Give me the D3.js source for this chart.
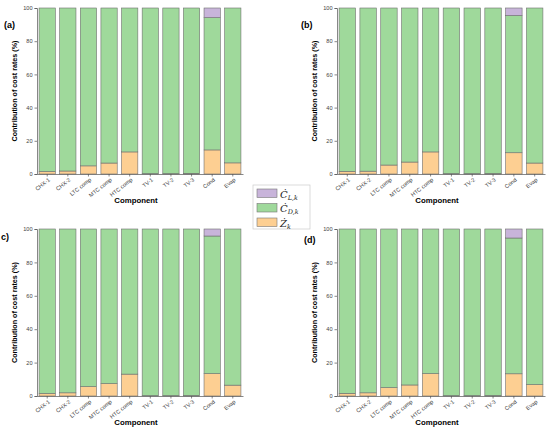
<!DOCTYPE html>
<meta charset="utf-8">
<title>Contribution of cost rates</title>
<style>
body { margin: 0; background: #fff; }
svg { font-family: "Liberation Sans", Arial, sans-serif; }
.tick text { fill: #444; font-size: 5.6px; }
.tick line, .domain { stroke: #555; stroke-width: .7px; }
</style>
<body>
<script src="https://cdn.jsdelivr.net/npm/d3@7"></script>
<script>

var components = ["CHX-1", "CHX-2", "LTC comp", "MTC comp", "HTC comp", "TV-1", "TV-2", "TV-3", "Cond", "Evap"];
var yTicks = [0, 20, 40, 60, 80, 100];

// Z_k share (%) per component, one array per panel
var zA = [1.5, 1.8, 4.9, 6.6, 13.3, 0.2, 0.2, 0.4, 14.5, 6.7];
var zB = [1.6, 1.7, 5.4, 7.2, 13.3, 0.2, 0.2, 0.3, 12.8, 6.6];
var zC = [1.5, 1.9, 5.6, 7.4, 13.1, 0.2, 0.2, 0.3, 13.4, 6.5];
var zD = [1.6, 1.9, 5.0, 6.6, 13.4, 0.2, 0.2, 0.3, 13.3, 6.8];

// C_L,k share (%) per component
var lA = [0, 0, 0, 0, 0, 0, 0, 0, 5.8, 0];
var lB = [0, 0, 0, 0, 0, 0, 0, 0, 4.5, 0];
var lC = [0, 0, 0, 0, 0, 0, 0, 0, 4.2, 0];
var lD = [0, 0, 0, 0, 0, 0, 0, 0, 5.4, 0];

var panelNames = ["(a)", "(b)", "c)", "(d)"];

var colZ = "#fdcf92",
    colD = "#9fd99b",
    colL = "#c8b4da";

var svg = d3.select("body").append("svg")
    .attr("width", 550)
    .attr("height", 429);

var panels = [
  {name: panelNames[0], z: zA, l: lA, x0: 37,  x1: 243, y0: 8,   y1: 174, lx: 4,   ly: 28},
  {name: panelNames[1], z: zB, l: lB, x0: 337, x1: 545, y0: 8,   y1: 174, lx: 301, ly: 28},
  {name: panelNames[2], z: zC, l: lC, x0: 37,  x1: 243, y0: 229, y1: 396, lx: 1,   ly: 240},
  {name: panelNames[3], z: zD, l: lD, x0: 337, x1: 545, y0: 229, y1: 396, lx: 304, ly: 243}
];

panels.forEach(drawPanel);

function drawPanel(p) {
  var x = d3.scaleBand()
      .domain(components)
      .range([p.x0, p.x1])
      .paddingInner(0.21)
      .paddingOuter(0.1);

  var y = d3.scaleLinear()
      .domain([0, 100])
      .range([p.y1, p.y0]);

  var rows = components.map(function(c, i) {
    return {comp: c, z: p.z[i], d: 100 - p.z[i] - p.l[i], l: p.l[i]};
  });

  var stack = d3.stack().keys(["z", "d", "l"])(rows);
  var fills = {z: colZ, d: colD, l: colL};

  var g = svg.append("g");

  g.selectAll("g.layer")
      .data(stack)
    .enter().append("g")
      .attr("class", "layer")
      .attr("fill", function(s) { return fills[s.key]; })
    .selectAll("rect")
      .data(function(s) { return s.filter(function(v) { return v[1] - v[0] > 0; }); })
    .enter().append("rect")
      .attr("x", function(v) { return x(v.data.comp); })
      .attr("width", x.bandwidth())
      .attr("y", function(v) { return y(v[1]); })
      .attr("height", function(v) { return y(v[0]) - y(v[1]); })
      .attr("stroke", "#6f6f6f")
      .attr("stroke-width", 0.6);

  g.append("g")
      .attr("transform", "translate(" + p.x0 + ",0)")
      .call(d3.axisLeft(y).tickValues(yTicks).tickSize(2.5).tickPadding(2));

  var xAxis = g.append("g")
      .attr("transform", "translate(0," + p.y1 + ")")
      .call(d3.axisBottom(x).tickSize(2.5).tickSizeOuter(0));

  xAxis.selectAll(".tick text")
      .attr("x", 0)
      .attr("y", 0)
      .attr("dy", "0.35em")
      .attr("text-anchor", "end")
      .attr("transform", "translate(2,5)rotate(-38)");

  g.append("text")
      .attr("transform", "translate(" + (p.x0 - 20) + "," + ((p.y0 + p.y1) / 2) + ")rotate(-90)")
      .attr("text-anchor", "middle")
      .style("font-size", "7.2px")
      .style("font-weight", "bold")
      .text("Contribution of cost rates (%)");

  g.append("text")
      .attr("x", (p.x0 + p.x1) / 2 - 4)
      .attr("y", p.y1 + 29)
      .attr("text-anchor", "middle")
      .style("font-size", "7.8px")
      .style("font-weight", "bold")
      .text("Component");

  g.append("text")
      .attr("x", p.lx)
      .attr("y", p.ly)
      .style("font-size", "9px")
      .style("font-weight", "bold")
      .text(p.name);
}

// legend
var legendItems = [
  {c: colL, base: "C", sub: "L,k"},
  {c: colD, base: "C", sub: "D,k"},
  {c: colZ, base: "Z", sub: "k"}
];

var lg = svg.append("g").attr("transform", "translate(253,185)");

lg.append("rect")
    .attr("width", 57)
    .attr("height", 44)
    .attr("fill", "#fff")
    .attr("stroke", "#ccc")
    .attr("stroke-width", 0.7);

var item = lg.selectAll("g.item")
    .data(legendItems)
  .enter().append("g")
    .attr("class", "item")
    .attr("transform", function(d, i) { return "translate(4," + (4 + i * 14.5) + ")"; });

item.append("rect")
    .attr("width", 20)
    .attr("height", 8.5)
    .attr("fill", function(d) { return d.c; })
    .attr("stroke", "#777")
    .attr("stroke-width", 0.6);

var lt = item.append("text")
    .attr("x", 23)
    .attr("y", 8.5)
    .style("font-family", "'DejaVu Serif', 'Liberation Serif', serif")
    .style("font-style", "italic")
    .style("font-size", "10px")
    .style("fill", "#222");

lt.append("tspan").text(function(d) { return d.base + "\u0307"; });
lt.append("tspan")
    .attr("dy", 2)
    .style("font-size", "6.5px")
    .text(function(d) { return d.sub; });

</script>
